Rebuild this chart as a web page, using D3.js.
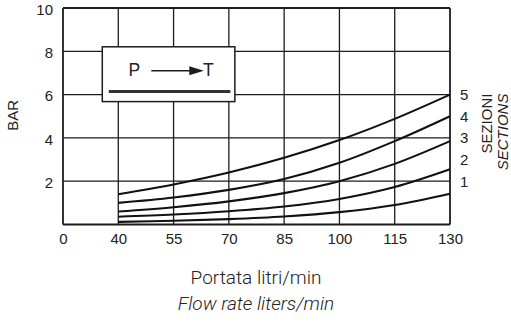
<!DOCTYPE html>
<html>
<head>
<meta charset="utf-8">
<script src="https://cdn.jsdelivr.net/npm/d3@7"></script>
<style>
  html, body { margin: 0; padding: 0; background: #fff; }
  svg { display: block; }
  text { fill: #222; }
</style>
</head>
<body>
<svg id="chart" width="511" height="322"></svg>
<script>
// Flow rate (l/min) at which each curve is sampled
const flowRates = [40, 55, 70, 85, 100, 115, 130];
// Pressure drop (bar) for 1 to 5 sections
const sections1 = [0.12, 0.17, 0.25, 0.37, 0.57, 0.90, 1.42];
const sections2 = [0.36, 0.46, 0.61, 0.83, 1.18, 1.73, 2.55];
const sections3 = [0.60, 0.80, 1.07, 1.45, 2.00, 2.80, 3.85];
const sections4 = [1.00, 1.25, 1.60, 2.10, 2.85, 3.85, 5.00];
const sections5 = [1.40, 1.85, 2.40, 3.08, 3.90, 4.88, 6.00];
const sectionCounts = [1, 2, 3, 4, 5];

const xTicks = [0, 40, 55, 70, 85, 100, 115, 130];
const yTicks = [2, 4, 6, 8, 10];
const yGrid = [0, 2, 4, 6, 8, 10];

const series = [sections1, sections2, sections3, sections4, sections5];

const svg = d3.select("#chart");
const plotLeft = 63, plotRight = 450, plotTop = 8, plotBottom = 224.5;

// The 0–40 span is compressed into one grid cell
const x = d3.scaleLinear().domain([0, 40, 130])
  .range([plotLeft, plotLeft + (plotRight - plotLeft) / 7, plotRight]);
const y = d3.scaleLinear().domain([0, 10]).range([plotBottom, plotTop]);

const ink = "#1c1c1c";
const grid = svg.append("g");

// vertical grid lines
grid.selectAll("line.v").data(xTicks).join("line")
  .attr("x1", d => x(d)).attr("x2", d => x(d))
  .attr("y1", y(0)).attr("y2", y(10))
  .attr("stroke", ink).attr("stroke-width", d => (d === 0 || d === 130) ? 1.8 : 1.3);

// horizontal grid lines
grid.selectAll("line.h").data(yGrid).join("line")
  .attr("x1", x(0)).attr("x2", x(130))
  .attr("y1", d => y(d)).attr("y2", d => y(d))
  .attr("stroke", ink).attr("stroke-width", d => (d === 0 || d === 10) ? 1.8 : 1.3);

// x axis tick labels
const xAxis = d3.axisBottom(x).tickValues(xTicks).tickSize(0).tickPadding(9)
  .tickFormat(d3.format("d"));
const gx = svg.append("g").attr("transform", `translate(0,${plotBottom})`).call(xAxis);
gx.select(".domain").remove();
gx.selectAll("text").attr("font-family", "Liberation Sans, Arial, sans-serif")
  .attr("font-size", 15).style("fill", "#222");

// y axis tick labels
const yAxis = d3.axisLeft(y).tickValues(yTicks).tickSize(0).tickPadding(10)
  .tickFormat(d3.format("d"));
const gy = svg.append("g").attr("transform", `translate(${plotLeft},0)`).call(yAxis);
gy.select(".domain").remove();
gy.selectAll("text").attr("font-family", "Liberation Sans, Arial, sans-serif")
  .attr("font-size", 15).attr("dy", "0.42em").style("fill", "#222");

// curves
const line = d3.line()
  .x((d, i) => x(flowRates[i]))
  .y(d => y(d))
  .curve(d3.curveCatmullRom.alpha(0.5));

svg.append("g").selectAll("path").data(series).join("path")
  .attr("d", line)
  .attr("fill", "none")
  .attr("stroke", "#111")
  .attr("stroke-width", 2.1);

// section numbers at the right
svg.append("g").selectAll("text").data(sectionCounts).join("text")
  .attr("x", plotRight + 10)
  .attr("y", d => y(d + 1))
  .attr("dy", "0.36em")
  .attr("font-family", "Liberation Sans, Arial, sans-serif")
  .attr("font-size", 15)
  .text(d => d);

// rotated captions
svg.append("text")
  .attr("transform", `translate(${x(130) + 42},${y(6) - 1}) rotate(-90)`)
  .attr("text-anchor", "end")
  .attr("font-family", "Liberation Sans, Arial, sans-serif")
  .attr("font-size", 15)
  .text("SEZIONI");
svg.append("text")
  .attr("transform", `translate(${x(130) + 58},${y(6) - 1}) rotate(-90)`)
  .attr("text-anchor", "end")
  .attr("font-family", "Liberation Sans, Arial, sans-serif")
  .attr("font-size", 15)
  .attr("font-style", "italic")
  .text("SECTIONS");

svg.append("text")
  .attr("transform", `translate(18,${(y(6) + y(4)) / 2 - 1}) rotate(-90)`)
  .attr("text-anchor", "middle")
  .attr("font-family", "Liberation Sans, Arial, sans-serif")
  .attr("font-size", 15)
  .text("BAR");

// P → T symbol box
const box = svg.append("g");
const bx0 = x(40) - 16, bx1 = x(70) + 6, by0 = y(8) - 4.5, by1 = y(6) + 7;
box.append("rect")
  .attr("x", bx0).attr("y", by0)
  .attr("width", bx1 - bx0).attr("height", by1 - by0)
  .attr("fill", "#fff").attr("stroke", ink).attr("stroke-width", 1.5);
box.append("text")
  .attr("x", bx0 + 32).attr("y", by0 + 29)
  .attr("font-family", "Liberation Sans, Arial, sans-serif")
  .attr("font-size", 17.5).attr("text-anchor", "middle")
  .text("P");
box.append("text")
  .attr("x", bx0 + 106).attr("y", by0 + 29)
  .attr("font-family", "Liberation Sans, Arial, sans-serif")
  .attr("font-size", 17.5).attr("text-anchor", "middle")
  .text("T");
box.append("line")
  .attr("x1", bx0 + 49).attr("x2", bx0 + 89)
  .attr("y1", by0 + 24).attr("y2", by0 + 24)
  .attr("stroke", ink).attr("stroke-width", 1.6);
box.append("path")
  .attr("d", `M${bx0 + 87},${by0 + 19.5} L${bx0 + 101.5},${by0 + 24} L${bx0 + 87},${by0 + 28.5} Z`)
  .attr("fill", ink);
box.append("line")
  .attr("x1", bx0 + 6.5).attr("x2", bx1 - 4.5)
  .attr("y1", by1 - 10).attr("y2", by1 - 10)
  .attr("stroke", "#333").attr("stroke-width", 3);

// axis titles
svg.append("text")
  .attr("x", 256).attr("y", 283.5)
  .attr("text-anchor", "middle")
  .attr("font-family", "Roboto, sans-serif")
  .attr("font-weight", 300)
  .attr("font-size", 19)
  .text("Portata litri/min");
svg.append("text")
  .attr("x", 256).attr("y", 309.5)
  .attr("text-anchor", "middle")
  .attr("font-family", "Roboto, sans-serif")
  .attr("font-weight", 300)
  .attr("font-style", "italic")
  .attr("font-size", 19)
  .text("Flow rate liters/min");
</script>
</body>
</html>
